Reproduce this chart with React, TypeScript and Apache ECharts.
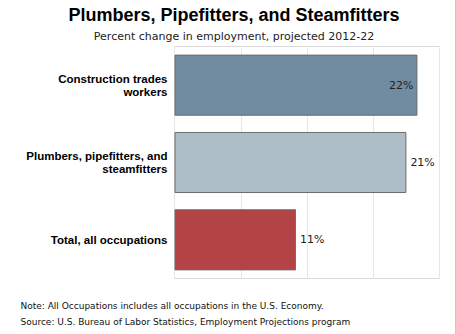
import React, { useEffect, useRef } from "react";
import * as echarts from "echarts";

const categories = [
  "Construction trades\nworkers",
  "Plumbers, pipefitters, and\nsteamfitters",
  "Total, all occupations",
];
const values = [22, 21, 11];
const barColors = ["#718ca1", "#adbec9", "#b34345"];
const labelPositions = ["insideRight", "right", "right"];
const titleText = "Plumbers, Pipefitters, and Steamfitters";
const subtitleText = "Percent change in employment, projected 2012-22";
const noteText = "Note: All Occupations includes all occupations in the U.S. Economy.";
const sourceText = "Source: U.S. Bureau of Labor Statistics, Employment Projections program";

export default function App() {
  const ref = useRef<HTMLDivElement>(null);
  useEffect(() => {
    if (!ref.current) return;
    const chart = echarts.init(ref.current, null, { renderer: "svg" });
    chart.setOption({
      animation: false,
      backgroundColor: "#ffffff",
      grid: {
        left: 174.5,
        right: 16.5,
        top: 46.5,
        bottom: 55.5,
        show: true,
        borderColor: "#d9d9d9",
        borderWidth: 1,
      },
      xAxis: {
        type: "value",
        min: 0,
        max: 24,
        interval: 6,
        axisLabel: { show: false },
        axisLine: { show: false },
        axisTick: { show: false },
        splitLine: { show: true, lineStyle: { color: "#e6e6e6", width: 1 } },
      },
      yAxis: {
        type: "category",
        data: categories,
        inverse: true,
        axisLine: { show: false },
        axisTick: { show: false },
        axisLabel: {
          color: "#000",
          fontFamily: "Liberation Sans, Arial, sans-serif",
          fontWeight: "bold",
          fontSize: 11.5,
          lineHeight: 13,
          margin: 7,
          align: "right",
        },
      },
      series: [
        {
          type: "bar",
          barCategoryGap: "21%",
          data: values.map((v, i) => ({
            value: v,
            itemStyle: { color: barColors[i], borderColor: "#6b6b6b", borderWidth: 1 },
            label: { position: labelPositions[i] },
          })),
          label: {
            show: true,
            formatter: "{c}%",
            color: "#222",
            fontFamily: "DejaVu Sans, Verdana, sans-serif",
            fontSize: 11,
            distance: 4,
          },
        },
      ],
      graphic: [
        {
          type: "text",
          x: 234,
          y: 15,
          style: {
            text: titleText,
            fill: "#000",
            font: "bold 18px 'Liberation Sans', Arial, sans-serif",
            textAlign: "center",
            textVerticalAlign: "middle",
          },
        },
        {
          type: "text",
          x: 234,
          y: 36.5,
          style: {
            text: subtitleText,
            fill: "#222",
            font: "11px 'DejaVu Sans', Verdana, sans-serif",
            textAlign: "center",
            textVerticalAlign: "middle",
          },
        },
        {
          type: "text",
          x: 20.5,
          y: 305.5,
          style: {
            text: noteText,
            fill: "#111",
            font: "9px 'DejaVu Sans', Tahoma, sans-serif",
            textAlign: "left",
            textVerticalAlign: "middle",
          },
        },
        {
          type: "text",
          x: 20.5,
          y: 322,
          style: {
            text: sourceText,
            fill: "#111",
            font: "9px 'DejaVu Sans', Tahoma, sans-serif",
            textAlign: "left",
            textVerticalAlign: "middle",
          },
        },
        {
          type: "line",
          shape: { x1: 455.5, y1: 0, x2: 455.5, y2: 334 },
          style: { stroke: "#c8c8c8", lineWidth: 1 },
        },
      ],
    });
    return () => chart.dispose();
  }, []);
  return (
    <div
      ref={ref}
      style={{ position: "fixed", left: 0, top: 0, width: 456, height: 334 }}
    />
  );
}
